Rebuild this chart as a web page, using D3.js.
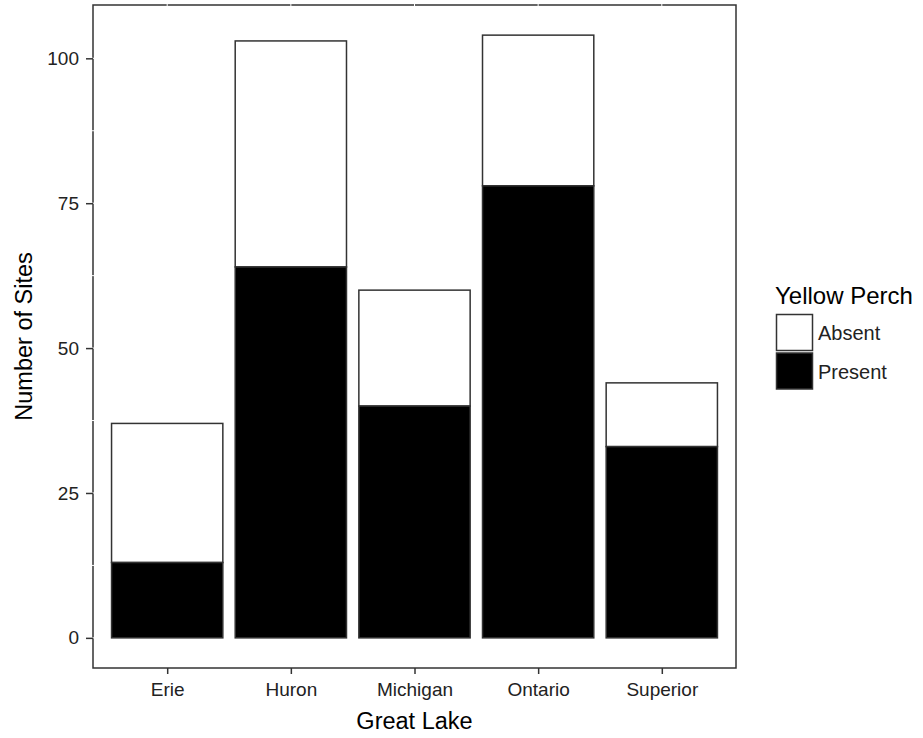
<!DOCTYPE html>
<html>
<head>
<meta charset="utf-8">
<script src="https://cdn.jsdelivr.net/npm/d3@7"></script>
<style>
  body { margin: 0; background: #fff; }
  text { font-family: "Liberation Sans", Arial, sans-serif; }
</style>
</head>
<body>
<div id="chart"></div>
<script>
var width = 923;
var height = 738;

// data
var lakes = ["Erie", "Huron", "Michigan", "Ontario", "Superior"];
var present = [13, 64, 40, 78, 33];
var absent = [24, 39, 20, 26, 11];
var yTicks = [0, 25, 50, 75, 100];
var groups = ["Absent", "Present"];
var fills = ["#ffffff", "#000000"];

var panel = {left: 93, right: 736, top: 5, bottom: 668};

var svg = d3.select("#chart")
    .append("svg")
    .attr("width", width)
    .attr("height", height);

// ggplot style: discrete axis expanded 0.6, continuous by 5%
var x = d3.scaleLinear()
    .domain([0.4, lakes.length + 0.6])
    .range([panel.left, panel.right]);
var ymax = d3.max(present.map((p, i) => p + absent[i]));
var y = d3.scaleLinear()
    .domain([-ymax * 0.05, ymax * 1.05])
    .range([panel.bottom, panel.top]);

var barW = 0.9;

// panel border first
svg.append("rect")
    .attr("x", panel.left)
    .attr("y", panel.top)
    .attr("width", panel.right - panel.left)
    .attr("height", panel.bottom - panel.top)
    .attr("fill", "none")
    .attr("stroke", "#333")
    .attr("stroke-width", 1.5);

// white grid lines (they nick the border)
var grid = svg.append("g").attr("stroke", "#fff").attr("stroke-width", 1);
lakes.forEach((d, i) => {
    grid.append("line")
        .attr("x1", x(i + 1)).attr("x2", x(i + 1))
        .attr("y1", panel.top - 1).attr("y2", panel.bottom - 2);
});
d3.range(0, 112.5, 12.5).forEach(v => {
    grid.append("line")
        .attr("x1", panel.left - 1).attr("x2", panel.right - 2)
        .attr("y1", y(v)).attr("y2", y(v));
});

// stacked bars
var stacked = lakes.map((d, i) => ({lake: d, i: i, present: present[i], absent: absent[i]}));
var bars = svg.append("g");
bars.selectAll("rect.absent")
    .data(stacked)
    .enter()
    .append("rect")
        .attr("x", d => x(d.i + 1 - barW / 2))
        .attr("width", d => x(d.i + 1 + barW / 2) - x(d.i + 1 - barW / 2))
        .attr("y", d => y(d.present + d.absent))
        .attr("height", d => y(d.present) - y(d.present + d.absent))
        .attr("fill", fills[0])
        .attr("stroke", "#333")
        .attr("stroke-width", 1.5);
bars.selectAll("rect.present")
    .data(stacked)
    .enter()
    .append("rect")
        .attr("x", d => x(d.i + 1 - barW / 2))
        .attr("width", d => x(d.i + 1 + barW / 2) - x(d.i + 1 - barW / 2))
        .attr("y", d => y(d.present))
        .attr("height", d => y(0) - y(d.present))
        .attr("fill", fills[1])
        .attr("stroke", "#333")
        .attr("stroke-width", 1.5);

// axes
var yAxis = d3.axisLeft(y).tickValues(yTicks).tickSize(7).tickPadding(7);
var gy = svg.append("g")
    .attr("transform", `translate(${panel.left},0)`)
    .call(yAxis);
gy.select(".domain").remove();

var xAxis = d3.axisBottom(x).tickValues(d3.range(1, lakes.length + 1))
    .tickFormat(d => lakes[d - 1]).tickSize(6).tickPadding(9);
var gx = svg.append("g")
    .attr("transform", `translate(0,${panel.bottom})`)
    .call(xAxis);
gx.select(".domain").remove();

svg.selectAll(".tick line").attr("stroke", "#333").attr("stroke-width", 1.5);
svg.selectAll(".tick text")
    .attr("fill", "#222")
    .style("font-size", "19px")
    .style("font-family", "'Liberation Sans', Arial, sans-serif");

// axis titles
svg.append("text")
    .attr("x", (panel.left + panel.right) / 2)
    .attr("y", 729)
    .attr("text-anchor", "middle")
    .style("font-size", "23.5px")
    .attr("fill", "#000")
    .text("Great Lake");
svg.append("text")
    .attr("transform", `translate(32,${(panel.top + panel.bottom) / 2}) rotate(-90)`)
    .attr("text-anchor", "middle")
    .style("font-size", "23.5px")
    .attr("fill", "#000")
    .text("Number of Sites");

// legend
var legend = svg.append("g").attr("transform", "translate(775,0)");
legend.append("text")
    .attr("x", 0)
    .attr("y", 304)
    .style("font-size", "24px")
    .attr("fill", "#000")
    .text("Yellow Perch");
groups.forEach((g, i) => {
    legend.append("rect")
        .attr("x", 1.5)
        .attr("y", 314.5 + i * 38.5)
        .attr("width", 36)
        .attr("height", 36)
        .attr("fill", fills[i])
        .attr("stroke", "#333")
        .attr("stroke-width", 1.5);
    legend.append("text")
        .attr("x", 43)
        .attr("y", 333 + i * 38.5)
        .attr("dy", "0.35em")
        .style("font-size", "20px")
        .attr("fill", "#222")
        .text(g);
});
</script>
</body>
</html>
